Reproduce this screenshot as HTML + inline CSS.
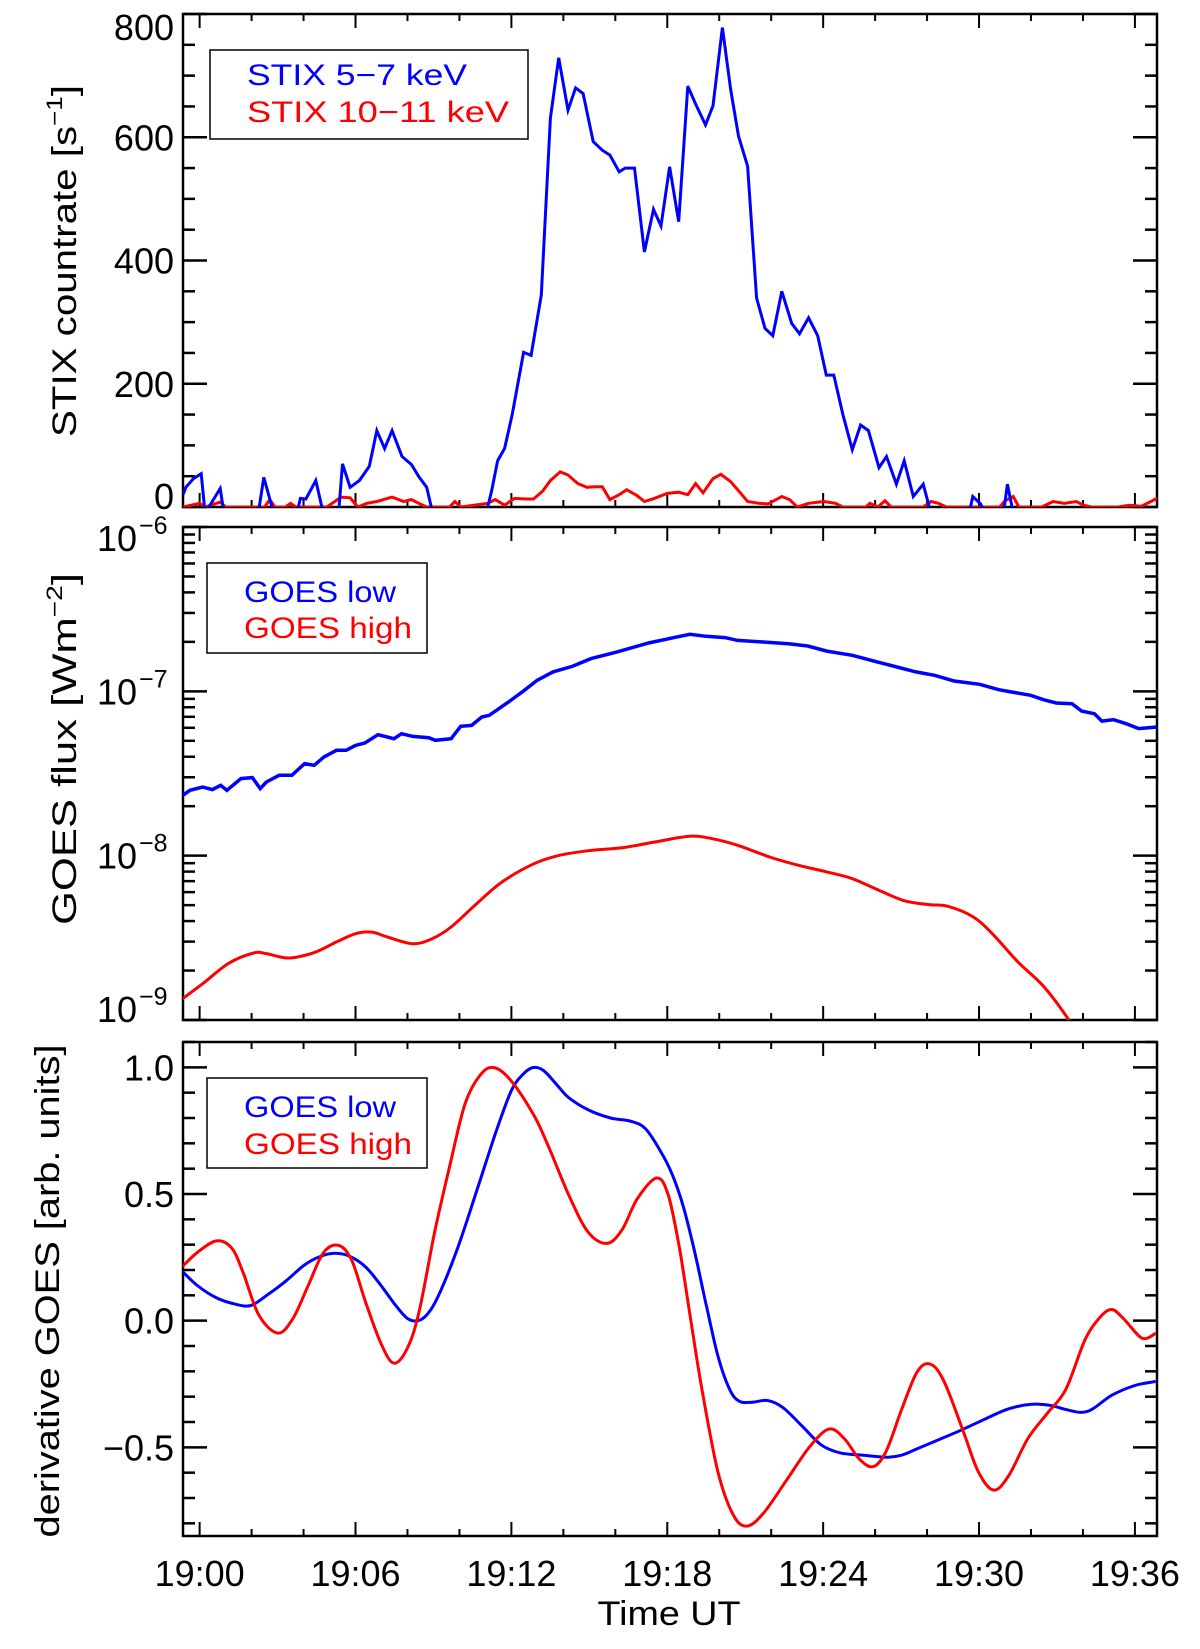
<!DOCTYPE html>
<html><head><meta charset="utf-8"><style>
html,body{margin:0;padding:0;background:#fff;}
svg{display:block;font-family:"Liberation Sans",sans-serif;}
</style></head><body>
<svg id="chart" width="1200" height="1649" viewBox="0 0 1200 1649" xmlns="http://www.w3.org/2000/svg">
<defs>
<clipPath id="c1"><rect x="183" y="14" width="974" height="493"/></clipPath>
<clipPath id="c2"><rect x="183" y="527" width="974" height="493"/></clipPath>
<clipPath id="c3"><rect x="183" y="1042" width="974" height="494"/></clipPath>
</defs>
<g id="layer"></g>
</svg>
<script>
// ---- data (time in minutes after 19:00) ----
const stixLowT=[-0.64,-0.53,-0.24,0.06,0.21,0.79,0.94,2.26,2.47,2.85,3.74,3.88,4.09,4.47,4.76,5.35,5.50,5.79,6.15,6.53,6.82,7.12,7.41,7.79,8.15,8.44,8.74,8.97,11.03,11.24,11.47,11.74,12.03,12.47,12.76,13.15,13.50,13.82,14.18,14.47,14.76,15.15,15.50,15.79,16.15,16.38,16.74,17.12,17.47,17.76,18.09,18.44,18.79,19.09,19.47,19.76,20.12,20.44,20.74,21.09,21.44,21.76,22.06,22.41,22.79,23.09,23.44,23.79,24.12,24.41,24.76,25.12,25.44,25.74,26.15,26.44,26.82,27.12,27.47,27.85,28.15,29.62,29.76,30.06,30.21,30.94,31.09,31.32,36.85];
const stixLowV=[20,32,46,54,-10,30,-10,-10,48,-10,-10,14,13,43,-10,-10,70,32,43,66,124,95,124,82,69,49,32,-10,-10,26,75,95,150,251,246,344,631,729,644,680,671,593,579,571,544,550,550,414,483,456,552,463,683,654,620,651,778,677,602,553,339,290,278,350,298,281,307,278,214,214,150,93,133,124,64,82,37,75,17,37,-10,-10,17,5,-10,-10,37,-10,-10];
const stixHighT=[-0.64,0.0,0.21,0.79,1.0,2.5,2.7,2.9,3.3,3.5,3.7,4.9,5.44,5.79,6.09,6.44,6.82,7.41,7.85,8.15,8.44,8.74,9.62,9.82,10.06,11.09,11.38,11.74,12.12,12.56,12.85,13.21,13.50,13.88,14.18,14.56,14.91,15.21,15.50,15.79,16.15,16.44,16.82,17.12,17.5,18.0,18.44,18.79,19.09,19.38,19.76,20.06,20.44,20.79,21.09,21.53,21.88,22.41,22.71,23.0,23.44,24.03,24.47,24.76,25.65,25.8,26.1,26.38,26.62,27.85,28.15,28.44,28.74,30.79,31.0,31.32,31.53,32.41,32.85,33.29,33.74,34.03,34.32,35.35,35.79,36.24,36.85];
const stixHighV=[0,6,0,8,0,0,12,0,0,6,0,0,16,15,0,6,9,16,9,12,6,0,0,9,0,6,12,3,14,13,13,26,43,57,52,38,32,33,33,12,20,28,19,9,14,22,24,20,38,23,46,53,41,24,9,6,5,17,12,0,6,9,6,0,0,6,0,10,0,0,9,6,0,0,10,17,0,0,9,6,9,3,0,0,3,1,14];
const goesLowT=[-0.74,-0.37,0.12,0.49,0.81,1.05,1.59,2.03,2.33,2.57,3.06,3.55,4.04,4.41,4.78,5.27,5.64,6.0,6.37,6.86,7.48,7.77,8.21,8.82,9.07,9.68,10.05,10.47,10.86,11.15,11.89,12.5,12.99,13.6,14.34,15.07,16.05,17.28,18.26,18.87,19.49,20.22,20.71,21.69,22.67,23.41,24.14,25.12,26.10,26.84,27.57,28.31,29.04,30.02,30.76,31.25,31.99,32.48,32.97,33.58,33.95,34.44,34.73,35.17,35.66,36.15,36.85];
const goesLowExp=[-7.643,-7.602,-7.582,-7.598,-7.572,-7.602,-7.531,-7.525,-7.592,-7.552,-7.511,-7.511,-7.440,-7.450,-7.400,-7.359,-7.359,-7.329,-7.314,-7.264,-7.288,-7.258,-7.274,-7.282,-7.298,-7.288,-7.213,-7.207,-7.156,-7.146,-7.065,-6.994,-6.933,-6.882,-6.848,-6.801,-6.761,-6.706,-6.673,-6.653,-6.665,-6.673,-6.690,-6.700,-6.710,-6.724,-6.755,-6.781,-6.822,-6.852,-6.882,-6.903,-6.937,-6.957,-6.990,-7.004,-7.024,-7.051,-7.071,-7.075,-7.120,-7.136,-7.181,-7.172,-7.197,-7.227,-7.217];
const goesHighT=[-0.74,0.12,1.10,2.08,2.57,3.43,4.41,5.27,6.0,6.62,7.23,8.21,8.95,9.68,10.66,11.64,12.87,13.85,15.07,16.3,17.52,18.87,19.73,20.71,21.94,22.92,24.14,25.12,26.1,27.08,28.06,28.8,29.78,30.51,31.5,32.48,33.46,33.8];
const goesHighExp=[-8.880,-8.779,-8.657,-8.592,-8.596,-8.623,-8.590,-8.525,-8.475,-8.465,-8.495,-8.536,-8.505,-8.434,-8.292,-8.160,-8.049,-7.998,-7.968,-7.951,-7.917,-7.882,-7.897,-7.937,-8.008,-8.053,-8.099,-8.140,-8.207,-8.272,-8.298,-8.308,-8.373,-8.475,-8.647,-8.795,-9.0,-9.1];
const derLowT=[-0.68,-0.09,0.65,1.38,1.97,2.56,3.30,4.04,4.63,5.22,5.80,6.39,6.98,7.57,8.01,8.40,8.75,9.19,9.93,10.67,11.40,11.99,12.43,12.82,13.23,13.76,14.20,14.94,15.82,16.56,17.15,17.74,18.18,18.62,19.06,19.51,19.95,20.39,20.77,21.27,21.86,22.45,23.19,23.92,24.66,25.55,26.43,27.02,27.61,28.49,29.38,30.26,31.14,32.03,32.76,33.35,33.94,34.38,35.12,36.0,36.8];
const derLowV=[0.196,0.139,0.090,0.065,0.060,0.098,0.155,0.220,0.253,0.266,0.253,0.212,0.139,0.057,0.008,0,0.024,0.098,0.286,0.514,0.743,0.906,0.971,0.999,0.988,0.930,0.881,0.833,0.800,0.788,0.759,0.669,0.580,0.449,0.269,0.057,-0.139,-0.269,-0.318,-0.322,-0.315,-0.343,-0.416,-0.490,-0.522,-0.531,-0.539,-0.531,-0.506,-0.468,-0.429,-0.387,-0.348,-0.330,-0.335,-0.351,-0.362,-0.348,-0.294,-0.256,-0.240];
const derHighT=[-0.68,-0.09,0.65,1.24,1.68,2.27,3.0,3.59,4.18,4.77,5.36,5.86,6.39,6.98,7.48,8.01,8.46,9.05,9.63,10.22,10.81,11.34,11.99,12.88,13.47,14.20,14.94,15.67,16.26,16.85,17.59,18.03,18.47,18.92,19.36,19.95,20.54,21.07,21.71,22.60,23.48,24.22,24.81,25.40,25.93,26.43,27.02,27.61,28.11,28.64,29.38,29.97,30.56,31.14,31.88,32.62,33.35,34.09,34.68,35.12,35.56,36.15,36.45,36.8];
const derHighV=[0.212,0.269,0.315,0.286,0.188,0.024,-0.049,0.008,0.139,0.269,0.297,0.237,0.073,-0.090,-0.168,-0.106,0.041,0.351,0.612,0.857,0.971,0.999,0.947,0.808,0.677,0.498,0.351,0.305,0.359,0.482,0.563,0.498,0.286,-0.008,-0.286,-0.596,-0.767,-0.811,-0.759,-0.628,-0.498,-0.428,-0.465,-0.547,-0.576,-0.514,-0.351,-0.204,-0.171,-0.237,-0.433,-0.596,-0.669,-0.612,-0.465,-0.367,-0.269,-0.073,0.016,0.044,0.008,-0.060,-0.070,-0.049];
const xTickLabels=["19:00","19:06","19:12","19:18","19:24","19:30","19:36"];
const stixTickLabels=["0","200","400","600","800"];
const derTickLabels=["\u22120.5","0.0","0.5","1.0"];

const NS="http://www.w3.org/2000/svg";
const layer=document.getElementById('layer');
const L=183,R=1157,XMIN=-0.64,XMAX=36.85;
const P1={t:14,b:507},P2={t:527,b:1020},P3={t:1042,b:1536};
function xs(t){return L+(t-XMIN)/(XMAX-XMIN)*(R-L);}
function y1(v){return P1.b-(v-0)/800*(P1.b-P1.t);}
function y2(e){return P2.b-(e+9)/3*(P2.b-P2.t);}
function y3(v){return P3.b-(v+0.85)/1.95*(P3.b-P3.t);}
function mk(tag,attrs,parent){const e=document.createElementNS(NS,tag);for(const k in attrs)e.setAttribute(k,attrs[k]);(parent||layer).appendChild(e);return e;}
function lin(T,V,fy){return T.map((t,i)=>(i?'L':'M')+xs(t).toFixed(1)+' '+fy(V[i]).toFixed(1)).join(' ');}
function smooth(T,V,fy){const p=T.map((t,i)=>[xs(t),fy(V[i])]);let d='M'+p[0][0].toFixed(1)+' '+p[0][1].toFixed(1);
 for(let i=0;i<p.length-1;i++){const a=p[Math.max(0,i-1)],b=p[i],c=p[i+1],e=p[Math.min(p.length-1,i+2)];
 const c1=[b[0]+(c[0]-a[0])/6,b[1]+(c[1]-a[1])/6],c2=[c[0]-(e[0]-b[0])/6,c[1]-(e[1]-b[1])/6];
 d+=' C'+c1[0].toFixed(1)+' '+c1[1].toFixed(1)+' '+c2[0].toFixed(1)+' '+c2[1].toFixed(1)+' '+c[0].toFixed(1)+' '+c[1].toFixed(1);}return d;}

function frame(P,name){
 const r=mk('rect',{x:L,y:P.t,width:R-L,height:P.b-P.t,fill:'none',stroke:'#000','stroke-width':2.5});
 
 
 for(let m=0;m<=36;m+=2){const x=xs(m),len=(m%6===0)?14:7;
  mk('line',{x1:x,y1:P.b,x2:x,y2:P.b-len,stroke:'#000','stroke-width':2});
  mk('line',{x1:x,y1:P.t,x2:x,y2:P.t+len,stroke:'#000','stroke-width':2});}
}
function ytick(y,major){const len=major?24:12;
 mk('line',{x1:L,y1:y,x2:L+len,y2:y,stroke:'#000','stroke-width':2.5});
 mk('line',{x1:R,y1:y,x2:R-len,y2:y,stroke:'#000','stroke-width':2.5});}
function label(txt,x,y,anchor,size,name,extra){const t=mk('text',Object.assign({x:x,y:y,'text-anchor':anchor,'font-size':size,fill:'#000'},extra||{}));t.textContent=txt;
 
 
 return t;}

// Panel 1
frame(P1,'stix-panel');
for(let v=0;v<=800;v+=50)ytick(y1(v),v%200===0);
stixTickLabels.forEach((s,i)=>{const v=+s;let y=y1(v)+13;if(i===0)y=y1(v)+2;if(i===stixTickLabels.length-1)y=y1(v)+26;
 label(s,174,y,'end',36,'stix-y-tick-label');});
let p=mk('path',{d:lin(stixHighT,stixHighV,y1),fill:'none',stroke:'#ff0000','stroke-width':3,'clip-path':'url(#c1)'});


p=mk('path',{d:lin(stixLowT,stixLowV,y1),fill:'none',stroke:'#0000ff','stroke-width':3,'clip-path':'url(#c1)'});



// Panel 2
frame(P2,'goes-flux-panel');
for(let d=-9;d<=-6;d++){ytick(y2(d),true);if(d<-6)for(let k=2;k<=9;k++)ytick(y2(d+Math.log10(k)),false);}
[-9,-8,-7,-6].forEach(d=>{let y=y2(d)+13;if(d===-9)y=y2(d)+2;if(d===-6)y=y2(d)+24;
 const t=label('10',137,y,'end',36,'goes-y-tick-label');
 const s=label('\u2212'+(-d),139,y-17,'start',25,'goes-y-tick-exponent');});
p=mk('path',{d:smooth(goesHighT,goesHighExp,y2),fill:'none',stroke:'#ff0000','stroke-width':3,'clip-path':'url(#c2)'});


p=mk('path',{d:lin(goesLowT,goesLowExp,y2),fill:'none',stroke:'#0000ff','stroke-width':3.5,'clip-path':'url(#c2)'});



// Panel 3
frame(P3,'derivative-panel');
for(let k=-8;k<=11;k++){const v=k/10;ytick(y3(v),k%5===0);}
derTickLabels.forEach(s=>{const v=parseFloat(s.replace('\u2212','-'));label(s,174,y3(v)+13,'end',36,'derivative-y-tick-label');});
p=mk('path',{d:smooth(derLowT,derLowV,y3),fill:'none',stroke:'#0000ff','stroke-width':3,'clip-path':'url(#c3)'});


p=mk('path',{d:smooth(derHighT,derHighV,y3),fill:'none',stroke:'#ff0000','stroke-width':3,'clip-path':'url(#c3)'});



xTickLabels.forEach((s,i)=>label(s,xs(i*6),1586,'middle',36,'x-tick-label'));
label('Time UT',669,1625,'middle',34,'x-axis-title',{textLength:143,lengthAdjust:'spacingAndGlyphs'});

// y titles
let tt=label('',0,0,'middle',34,'stix-y-axis-title',{transform:'translate(76,261) rotate(-90)',textLength:352,lengthAdjust:'spacingAndGlyphs'});
tt.innerHTML='STIX countrate [s<tspan font-size="22" dy="-14">\u22121</tspan><tspan dy="14">]</tspan>';
tt=label('',0,0,'middle',34,'goes-y-axis-title',{transform:'translate(76,749) rotate(-90)',textLength:352,lengthAdjust:'spacingAndGlyphs'});
tt.innerHTML='GOES flux [Wm<tspan font-size="22" dy="-14">\u22122</tspan><tspan dy="14">]</tspan>';
label('derivative GOES [arb. units]',0,0,'middle',34,'derivative-y-axis-title',{transform:'translate(59,1291) rotate(-90)',textLength:493,lengthAdjust:'spacingAndGlyphs'});

// legends
function legend(x,y,w,h,items,name){const g=mk('g',{});
 
 
 mk('rect',{x:x,y:y,width:w,height:h,fill:'#fff',stroke:'#000','stroke-width':1.5},g);
 items.forEach(it=>{const t=mk('text',{x:it[2],y:it[3],'font-size':30,fill:it[1],textLength:it[4],lengthAdjust:'spacingAndGlyphs'},g);t.textContent=it[0];
  
  });}
legend(210,50,318,89,[['STIX 5\u22127 keV','#0000ff',247,85,220],['STIX 10\u221211 keV','#ff0000',247,122,262]],'stix-legend');
legend(207,563,220,90,[['GOES low','#0000ff',244,602,152],['GOES high','#ff0000',244,638,168]],'goes-flux-legend');
legend(207,1078,220,90,[['GOES low','#0000ff',244,1117,152],['GOES high','#ff0000',244,1154,168]],'derivative-legend');
</script>
</body></html>
